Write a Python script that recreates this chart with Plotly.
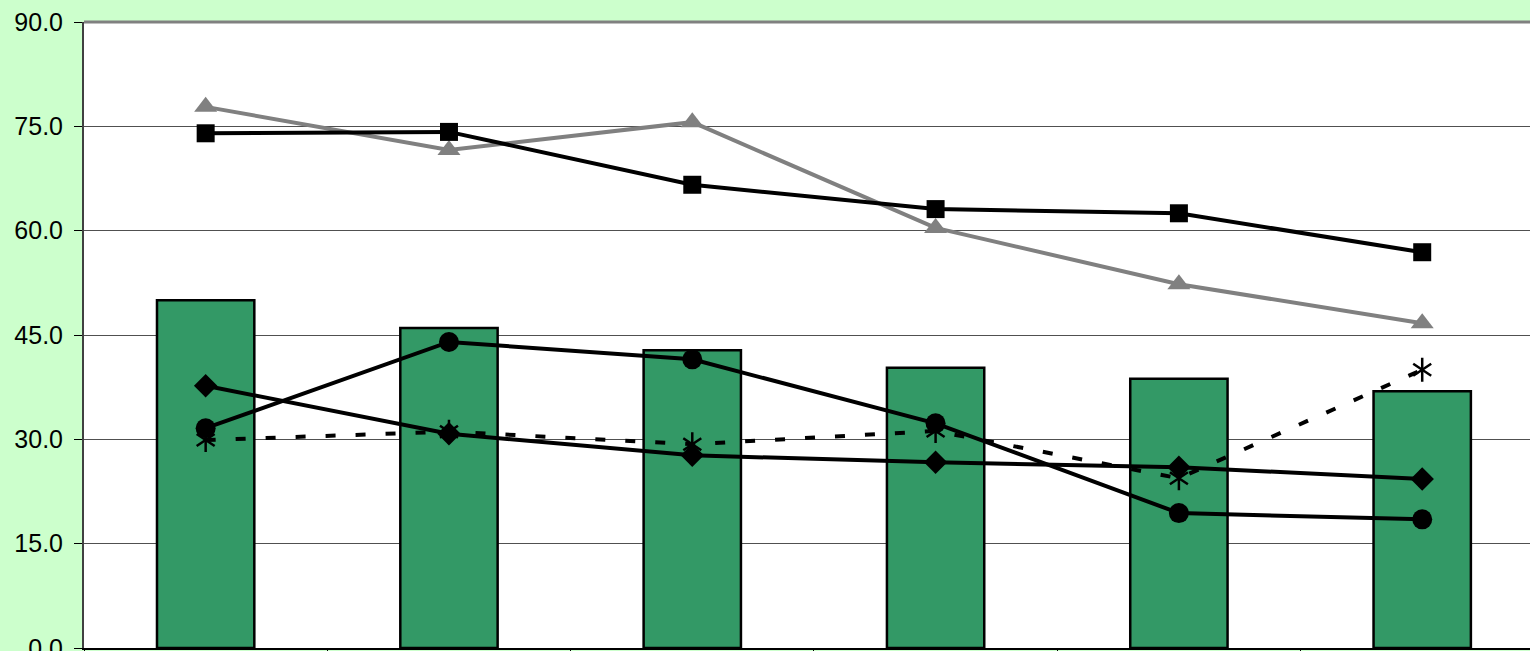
import plotly.graph_objects as go

categories = ["1", "2", "3", "4", "5", "6"]
bars = [50.0, 46.0, 42.8, 40.3, 38.7, 36.9]
triangles = [77.8, 71.6, 75.6, 60.4, 52.3, 46.7]
squares = [74.0, 74.2, 66.6, 63.1, 62.5, 56.9]
circles = [31.6, 44.0, 41.5, 32.3, 19.4, 18.5]
diamonds = [37.7, 30.8, 27.7, 26.7, 26.0, 24.3]
stars = [29.9, 31.1, 29.3, 31.2, 24.4, 40.0]
y_ticks = [0, 15, 30, 45, 60, 75, 90]

fig = go.Figure()
fig.add_trace(go.Bar(x=categories, y=bars, width=0.4,
                     marker=dict(color="#339966", line=dict(color="black", width=2.5)),
                     showlegend=False))
fig.add_trace(go.Scatter(x=categories, y=stars, mode="lines",
                         line=dict(color="black", width=4, dash="10px,20px"), showlegend=False))
fig.add_trace(go.Scatter(x=categories, y=stars, mode="markers",
                         marker=dict(symbol="y-up-open", size=15, color="black",
                                     line=dict(color="black", width=2.5)), showlegend=False))
fig.add_trace(go.Scatter(x=categories, y=stars, mode="markers",
                         marker=dict(symbol="y-down-open", size=15, color="black",
                                     line=dict(color="black", width=2.5)), showlegend=False))
fig.add_trace(go.Scatter(x=categories, y=diamonds, mode="lines+markers",
                         line=dict(color="black", width=4),
                         marker=dict(symbol="diamond", size=18, color="black"), showlegend=False))
fig.add_trace(go.Scatter(x=categories, y=circles, mode="lines+markers",
                         line=dict(color="black", width=4),
                         marker=dict(symbol="circle", size=20, color="black"), showlegend=False))
fig.add_trace(go.Scatter(x=categories, y=triangles, mode="lines+markers",
                         line=dict(color="#808080", width=4),
                         marker=dict(symbol="triangle-up", size=20, color="#808080"), showlegend=False))
fig.add_trace(go.Scatter(x=categories, y=squares, mode="lines+markers",
                         line=dict(color="black", width=4),
                         marker=dict(symbol="square", size=18, color="black"), showlegend=False))

fig.update_layout(
    width=1530, height=651, autosize=False,
    margin=dict(l=84, r=0, t=22, b=3, autoexpand=False),
    paper_bgcolor="#CCFFCC", plot_bgcolor="white",
    font=dict(family="Liberation Sans, Arial, sans-serif", size=25, color="black"),
    bargap=0.6,
    shapes=[dict(type="line", xref="paper", yref="paper", x0=0, x1=1, y0=1, y1=1,
                 line=dict(color="#808080", width=3))],
)
fig.update_xaxes(type="category", range=[-0.5, 5.443], tickson="boundaries",
                 ticks="outside", ticklen=8, tickcolor="black", showticklabels=False,
                 showline=True, linecolor="black", linewidth=2, showgrid=False, zeroline=False,
                 automargin=False)
fig.update_yaxes(range=[0, 90], tickvals=y_ticks, tickformat=".1f", ticks="outside",
                 ticklen=8, tickcolor="black", tickwidth=1, showline=True, linecolor="#404040",
                 linewidth=2, showgrid=True, gridcolor="#505050", gridwidth=1, zeroline=False,
                 ticklabelstandoff=6, tickfont=dict(size=25), automargin=False,
                 ticklabeloverflow="allow")

fig.write_html("out.html", config={"displayModeBar": False},
               post_script="document.body.style.margin='0';document.body.style.overflow='hidden';")
